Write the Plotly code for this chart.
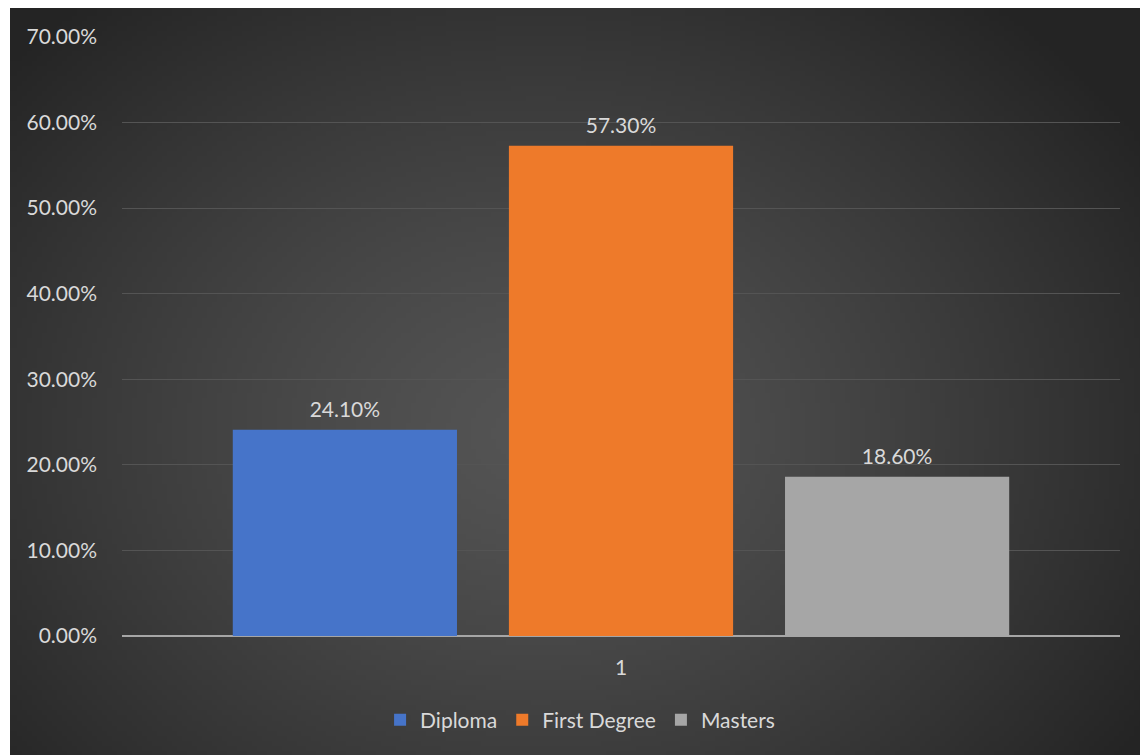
import plotly.graph_objects as go
import zlib, struct, base64, math

categories = ["1"]
series_names = ["Diploma", "First Degree", "Masters"]
series_values = [[0.241], [0.573], [0.186]]
series_colors = ["#4674c9", "#ee7a2a", "#a6a6a6"]
tick_vals = [0, 0.1, 0.2, 0.3, 0.4, 0.5, 0.6, 0.7]
tick_text = ["0.00%", "10.00%", "20.00%", "30.00%", "40.00%", "50.00%", "60.00%", "70.00%"]


def make_png(w, h, fn):
    raw = bytearray()
    for j in range(h):
        raw.append(0)
        for i in range(w):
            raw.extend(fn(i, j))
    def chunk(t, d):
        c = struct.pack(">I", len(d)) + t + d
        return c + struct.pack(">I", zlib.crc32(t + d) & 0xffffffff)
    png = b"\x89PNG\r\n\x1a\n"
    png += chunk(b"IHDR", struct.pack(">IIBBBBB", w, h, 8, 2, 0, 0, 0))
    png += chunk(b"IDAT", zlib.compress(bytes(raw), 9))
    png += chunk(b"IEND", b"")
    return "data:image/png;base64," + base64.b64encode(png).decode()


W, H = 230, 150
cx, cy = 0.46 * W, 0.56 * H


def bg(i, j):
    dx = (i - cx) / (W * 0.62)
    dy = (j - cy) / (H * 0.75)
    r = min(1.0, math.sqrt(dx * dx + dy * dy))
    v = int(round(84 - (84 - 36) * r ** 1.3))
    return (v, v, v)


bg_src = make_png(W, H, bg)

FW, FH = 1148, 755
ML, MR, MT, MB = 114, 36, 29, 127
PW, PH = FW - ML - MR, FH - MT - MB

fig = go.Figure()
for name, vals, col in zip(series_names, series_values, series_colors):
    fig.add_trace(go.Bar(
        x=categories, y=vals, name=name,
        marker=dict(color=col, line=dict(width=0)),
        offsetgroup=name,
        cliponaxis=False,
    ))
for name, vals in zip(series_names, series_values):
    fig.add_trace(go.Scatter(
        x=categories, y=vals, mode="markers+text",
        offsetgroup=name, showlegend=False, hoverinfo="skip",
        marker=dict(size=10, opacity=0),
        text=[f"{v*100:.2f}%" for v in vals],
        textposition="top center",
        textfont=dict(color="#d9d9d9", size=21, family="Lato"),
        cliponaxis=False,
    ))

fig.add_layout_image(dict(
    source=bg_src, xref="paper", yref="paper",
    x=(2 - ML) / PW, y=1 + MT / PH,
    sizex=(FW - 2) / PW, sizey=FH / PH,
    xanchor="left", yanchor="top",
    sizing="stretch", layer="below",
))

fig.update_layout(
    width=FW, height=FH,
    margin=dict(l=ML, r=MR, t=MT, b=MB),
    paper_bgcolor="white",
    plot_bgcolor="rgba(0,0,0,0)",
    barmode="group",
    scattermode="group",
    bargap=0.17,
    bargroupgap=0.188,
    font=dict(family="Lato", color="#d9d9d9", size=21),
    showlegend=True,
    legend=dict(orientation="h", x=0.459, xanchor="center", xref="paper",
                y=-(712 - (FH - MB)) / PH, yanchor="middle",
                font=dict(size=21, color="#d9d9d9"),
                bgcolor="rgba(0,0,0,0)", itemwidth=30, tracegroupgap=0),
    xaxis=dict(showgrid=False, showline=False, ticks="",
               ticklabelstandoff=17,
               tickfont=dict(size=21, color="#d9d9d9")),
    yaxis=dict(range=[0, 0.7], tickvals=tick_vals, ticktext=tick_text,
               showgrid=True, gridcolor="#545454", gridwidth=1,
               zeroline=True, zerolinecolor="#a6a6a6", zerolinewidth=2,
               showline=False, ticks="", ticklabelstandoff=24,
               tickfont=dict(size=21, color="#d9d9d9")),
)

fig.write_html("out.html")
